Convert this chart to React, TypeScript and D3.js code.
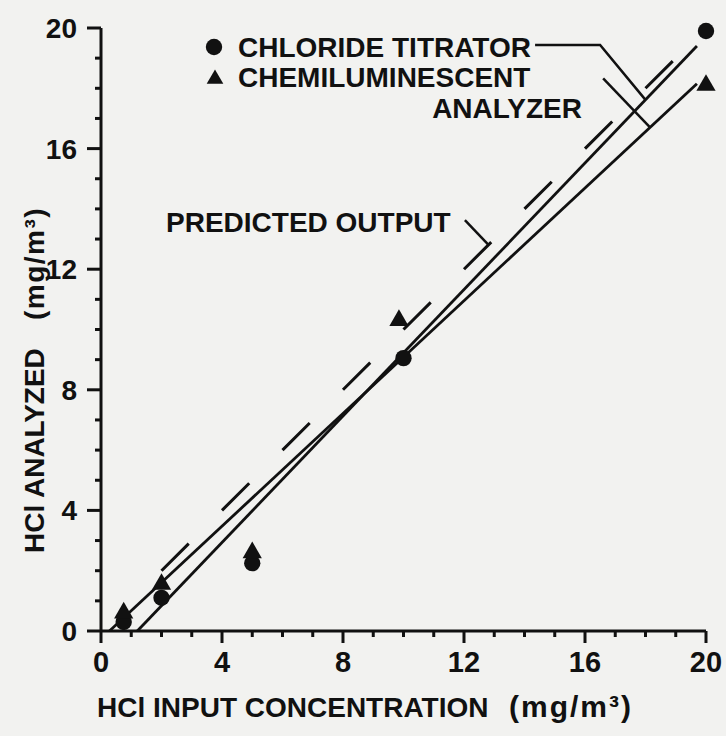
import * as d3 from "d3";

// measured points (mg/m3)
const chlorideX = [0.75, 2, 5, 10, 20];
const chlorideY = [0.3, 1.1, 2.25, 9.05, 19.9];
const chemiX = [0.75, 2, 5, 9.85, 20];
const chemiY = [0.6, 1.55, 2.6, 10.3, 18.1];

// drawn fit lines, end points in data units
const chlorideFit: [number, number][] = [[1.2, 0], [19.7, 19.4]];
const chemiFit: [number, number][] = [[0.28, 0], [19.7, 18.15]];
const predicted: [number, number][] = [[2, 2], [18.9, 18.9]];
const dashUnits = [0.9, 1.1];

const tickValues = [0, 4, 8, 12, 16, 20];
const minorTicks = d3.range(0, 21, 1);

const width = 726;
const height = 736;
const ink = "#111";
const font = "'Liberation Sans', Arial, sans-serif";

export default function App() {
  const x = d3.scaleLinear().domain([0, 20]).range([101, 706]);
  const y = d3.scaleLinear().domain([0, 20]).range([631, 28]);
  const line = d3
    .line<[number, number]>()
    .x((d) => x(d[0]))
    .y((d) => y(d[1]));

  const diag = Math.hypot(x(1) - x(0), y(0) - y(1));
  const dash = dashUnits.map((u) => u * diag).join(" ");

  const circle = d3.symbol(d3.symbolCircle, 210)();
  const tri = d3.symbol(d3.symbolTriangle, 160)();
  const triSmall = d3.symbol(d3.symbolTriangle, 120)();

  const onChloride = (xv: number) => {
    const [[x0, y0], [x1, y1]] = chlorideFit;
    return y0 + ((y1 - y0) * (xv - x0)) / (x1 - x0);
  };
  const onChemi = (xv: number) => {
    const [[x0, y0], [x1, y1]] = chemiFit;
    return y0 + ((y1 - y0) * (xv - x0)) / (x1 - x0);
  };

  const textStyle = {
    fontFamily: font,
    fontWeight: 700,
    fontSize: 28,
    fill: ink,
  } as const;

  return (
    <svg
      width={width}
      height={height}
      style={{ position: "absolute", left: 0, top: 0, background: "#f2f2f0" }}
    >
      <rect width={width} height={height} fill="#f2f2f0" />

      {/* axes */}
      <line x1={x(0)} x2={x(0)} y1={y(20)} y2={y(0)} stroke={ink} strokeWidth={3} />
      <line x1={x(0)} x2={x(20)} y1={y(0)} y2={y(0)} stroke={ink} strokeWidth={3} />
      {minorTicks.map((t) => {
        const major = t % 4 === 0;
        return (
          <g key={t}>
            <line
              x1={x(0)}
              x2={x(0) - (major ? 14 : 6)}
              y1={y(t)}
              y2={y(t)}
              stroke={ink}
              strokeWidth={3}
            />
            <line
              x1={x(t)}
              x2={x(t)}
              y1={y(0)}
              y2={y(0) + (major ? 12 : 6)}
              stroke={ink}
              strokeWidth={3}
            />
          </g>
        );
      })}
      {tickValues.map((t) => (
        <g key={t}>
          <text x={x(0) - 24} y={y(t) + 10} textAnchor="end" style={textStyle}>
            {t}
          </text>
          <text x={x(t)} y={672} textAnchor="middle" style={{ ...textStyle, fontSize: 29 }}>
            {t}
          </text>
        </g>
      ))}

      {/* axis titles */}
      <text x={97} y={717} style={textStyle}>
        HCl INPUT CONCENTRATION
      </text>
      <text x={509} y={717} style={{ ...textStyle, fontSize: 30, letterSpacing: 2 }}>
        (mg/m³)
      </text>
      <text transform="translate(44,553) rotate(-90)" style={textStyle}>
        HCl ANALYZED
      </text>
      <text
        transform="translate(44,320) rotate(-90)"
        style={{ ...textStyle, letterSpacing: 1.5 }}
      >
        (mg/m³)
      </text>

      {/* lines */}
      <path d={line(predicted) ?? ""} stroke={ink} strokeWidth={3} strokeDasharray={dash} fill="none" />
      <path d={line(chlorideFit) ?? ""} stroke={ink} strokeWidth={2.8} fill="none" />
      <path d={line(chemiFit) ?? ""} stroke={ink} strokeWidth={2.8} fill="none" />

      {/* markers */}
      {chlorideX.map((v, i) => (
        <path key={"c" + i} d={circle ?? ""} transform={`translate(${x(v)},${y(chlorideY[i])})`} fill={ink} />
      ))}
      {chemiX.map((v, i) => (
        <path key={"t" + i} d={tri ?? ""} transform={`translate(${x(v)},${y(chemiY[i])})`} fill={ink} />
      ))}

      {/* legend */}
      <path d={circle ?? ""} transform="translate(214,47)" fill={ink} />
      <text x={238} y={57} style={textStyle}>
        CHLORIDE TITRATOR
      </text>
      <path d={triSmall ?? ""} transform="translate(215,79)" fill={ink} />
      <text x={238} y={87} style={textStyle}>
        CHEMILUMINESCENT
      </text>
      <text x={582} y={118} textAnchor="end" style={textStyle}>
        ANALYZER
      </text>
      <text x={166} y={232} style={textStyle}>
        PREDICTED OUTPUT
      </text>

      {/* leaders */}
      <path
        d={line([[14.35, 19.44], [16.5, 19.44], [18.0, onChloride(18.0)]]) ?? ""}
        stroke={ink}
        strokeWidth={2.5}
        fill="none"
      />
      <path
        d={line([[16.6, 18.33], [18.15, onChemi(18.15)]]) ?? ""}
        stroke={ink}
        strokeWidth={2.5}
        fill="none"
      />
      <path
        d={line([[12.03, 13.63], [12.81, 12.81]]) ?? ""}
        stroke={ink}
        strokeWidth={2.5}
        fill="none"
      />
    </svg>
  );
}
